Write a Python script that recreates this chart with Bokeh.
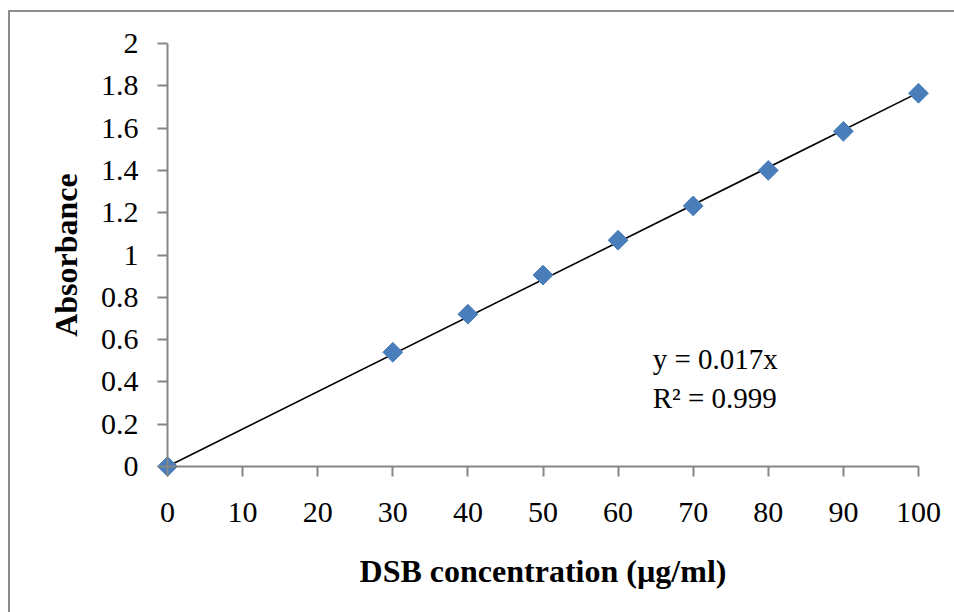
import numpy as np
from bokeh.plotting import figure
from bokeh.models import ColumnDataSource, Label, FixedTicker, Range1d, LinearAxis
from bokeh.embed import file_html
from bokeh.resources import INLINE

# data
conc = [0, 30, 40, 50, 60, 70, 80, 90, 100]
absorbance = [0.0, 0.54, 0.72, 0.905, 1.07, 1.232, 1.40, 1.585, 1.765]
x_ticks = [0, 10, 20, 30, 40, 50, 60, 70, 80, 90, 100]
y_ticks = [0, 0.2, 0.4, 0.6, 0.8, 1, 1.2, 1.4, 1.6, 1.8, 2]
eq_text = "y = 0.017x"
r2_text = "R\u00b2 = 0.999"

xa = np.array(conc, dtype=float)
ya = np.array(absorbance, dtype=float)
slope = float((xa * ya).sum() / (xa * xa).sum())
trend_x = [0, 100]
trend_y = [0, slope * 100]

FONT = "Liberation Serif"
GRAY = "#868686"

p = figure(width=946, height=602, output_backend="svg", toolbar_location=None,
           x_range=Range1d(-1.602, 101.602), y_range=Range1d(-0.057, 2.057),
           x_axis_location=None, y_axis_location=None)
p.styles = {"margin-left": "8px", "margin-top": "10px",
            "border-left": "2px solid #8c8c8c", "border-top": "2px solid #8c8c8c"}
p.min_border_left = 155 - 10
p.min_border_right = 954 - 928
p.min_border_top = 31 - 12
p.min_border_bottom = 612 - 476
p.outline_line_color = None
p.background_fill_color = "white"
p.border_fill_color = "white"
for g in p.grid:
    g.visible = False
    g.grid_line_color = None

# label axes (at frame edge): only tick labels and titles
xlab = LinearAxis(ticker=FixedTicker(ticks=x_ticks),
                  major_label_overrides={t: str(t) for t in x_ticks})
ylab = LinearAxis(ticker=FixedTicker(ticks=y_ticks),
                  major_label_overrides={t: ("%g" % t) for t in y_ticks})
for ax in (xlab, ylab):
    ax.axis_line_color = None
    ax.major_tick_line_color = None
    ax.minor_tick_line_color = None
    ax.major_tick_out = 0
    ax.major_tick_in = 0
    ax.major_label_text_font = FONT
    ax.major_label_text_font_size = "30px"
    ax.major_label_text_color = "black"
    ax.axis_label_text_font = FONT
    ax.axis_label_text_font_style = "bold"
    ax.axis_label_text_font_size = "32px"
    ax.axis_label_text_color = "black"
xlab.major_label_standoff = 24
ylab.major_label_standoff = 17
xlab.axis_label = "DSB concentration (\u00b5g/ml)"
ylab.axis_label = "Absorbance"
xlab.axis_label_standoff = 28
ylab.axis_label_standoff = 14
p.add_layout(xlab, "below")
p.add_layout(ylab, "left")

# line axes at the data origin: axis lines and ticks
xline = LinearAxis(ticker=FixedTicker(ticks=x_ticks), fixed_location=0, bounds=(0, 100))
yline = LinearAxis(ticker=FixedTicker(ticks=y_ticks), fixed_location=0, bounds=(0, 2))
for ax in (xline, yline):
    ax.axis_line_color = GRAY
    ax.axis_line_width = 2
    ax.major_tick_line_color = GRAY
    ax.major_tick_line_width = 2
    ax.major_tick_out = 10
    ax.major_tick_in = 0
    ax.minor_tick_line_color = None
    ax.major_label_text_alpha = 0
    ax.major_label_text_font_size = "1px"
p.add_layout(xline, "below")
p.add_layout(yline, "left")

p.line(trend_x, trend_y, line_color="black", line_width=1.6)
src = ColumnDataSource(dict(x=conc, y=absorbance))
p.scatter("x", "y", source=src, marker="square", angle=np.pi / 4, size=14,
          fill_color="#4a7ebb", line_color="#4a7ebb")

p.add_layout(Label(x=64.6, y=0.508, text=eq_text,
                   text_font=FONT, text_font_size="29px", text_color="black",
                   text_baseline="middle"))
p.add_layout(Label(x=64.6, y=0.323, text=r2_text,
                   text_font=FONT, text_font_size="29px", text_color="black",
                   text_baseline="middle"))

open("out.html", "w").write(file_html(p, INLINE))
